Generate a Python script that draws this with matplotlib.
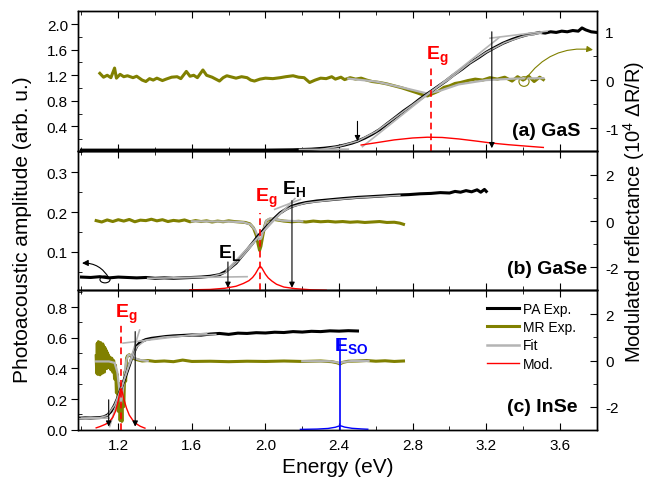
import numpy as np
import matplotlib
matplotlib.use('Agg')
import matplotlib.pyplot as plt
from matplotlib.ticker import MultipleLocator, FormatStrFormatter
from matplotlib.patches import Ellipse
from matplotlib.lines import Line2D

plt.rcParams['font.family'] = ['Liberation Sans', 'DejaVu Sans']
plt.rcParams['mathtext.fontset'] = 'custom'
plt.rcParams['mathtext.rm'] = 'Liberation Sans'
plt.rcParams['mathtext.it'] = 'Liberation Sans:italic'
plt.rcParams['mathtext.bf'] = 'Liberation Sans:bold'
plt.rcParams['axes.unicode_minus'] = False
plt.rcParams['axes.linewidth'] = 1.0

OLIVE = '#808000'
GRAY = '#b4b4b4'

# ---- (a) GaS ----
paA_e = [1.00, 1.20, 1.40, 1.60, 1.80, 2.00, 2.15, 2.25, 2.32, 2.38,
         2.43, 2.47, 2.50, 2.54, 2.58, 2.62, 2.66, 2.71, 2.75, 2.80,
         2.84, 2.89, 2.93, 2.98, 3.02, 3.07, 3.11, 3.16, 3.20, 3.25,
         3.29, 3.34, 3.38, 3.43, 3.46, 3.49, 3.52, 3.55, 3.58, 3.61,
         3.64, 3.67, 3.70, 3.72, 3.74, 3.77, 3.80]
paA_v = [0.03, 0.03, 0.03, 0.03, 0.03, 0.03, 0.035, 0.045, 0.06, 0.08,
         0.11, 0.14, 0.17, 0.22, 0.28, 0.35, 0.44, 0.55, 0.64, 0.74,
         0.83, 0.93, 1.01, 1.11, 1.20, 1.30, 1.39, 1.48, 1.56, 1.64,
         1.70, 1.76, 1.80, 1.84, 1.85, 1.87, 1.86, 1.88, 1.87, 1.89,
         1.88, 1.90, 1.89, 1.94, 1.91, 1.88, 1.87]

mrA_e = [1.10, 1.12, 1.14, 1.16, 1.18, 1.19, 1.21, 1.23, 1.25, 1.28,
         1.30, 1.33, 1.35, 1.37, 1.39, 1.41, 1.44, 1.46, 1.49, 1.52,
         1.54, 1.57, 1.59, 1.61, 1.63, 1.66, 1.68, 1.71, 1.73, 1.75,
         1.77, 1.79, 1.82, 1.84, 1.87, 1.90, 1.92, 1.94, 1.97, 2.00,
         2.04, 2.08, 2.11, 2.15, 2.18, 2.21, 2.24, 2.27, 2.30, 2.33,
         2.36, 2.38, 2.41, 2.43, 2.46, 2.49, 2.52, 2.55, 2.58, 2.62,
         2.66, 2.70, 2.74, 2.78, 2.82, 2.85, 2.88, 2.91, 2.94, 2.97,
         3.00, 3.03, 3.06, 3.10, 3.14, 3.18, 3.22, 3.26, 3.30, 3.34,
         3.37, 3.40, 3.43, 3.46, 3.49, 3.51]
mrA_v = [0.14, 0.06, 0.10, 0.05, 0.25, 0.04, 0.12, 0.07, 0.09, 0.05,
         0.08, 0.00, -0.03, 0.03, 0.00, 0.04, -0.01, 0.02, 0.06, 0.07,
         0.03, 0.18, 0.08, 0.10, 0.05, 0.21, 0.10, 0.06, 0.02, -0.02,
         0.05, 0.09, 0.06, 0.04, 0.07, 0.05, 0.00, -0.02, 0.02, 0.04,
         0.03, 0.05, 0.07, 0.09, 0.06, 0.05, -0.05, 0.00, 0.04, 0.03,
         0.07, 0.02, 0.06, 0.01, 0.05, 0.02, 0.04, 0.00, -0.03, -0.05,
         -0.08, -0.12, -0.16, -0.21, -0.26, -0.30, -0.33, -0.28, -0.23, -0.15,
         -0.12, -0.07, -0.05, -0.01, 0.02, 0.00, 0.05, 0.02, 0.06, -0.02,
         0.07, 0.00, 0.08, -0.03, 0.06, 0.01]

fitA_e = [2.30, 2.40, 2.50, 2.60, 2.70, 2.80, 2.90, 3.00, 3.10, 3.20, 3.30, 3.40, 3.50]
fitA_v = [0.04, 0.09, 0.17, 0.32, 0.53, 0.74, 0.95, 1.14, 1.37, 1.56, 1.71, 1.81, 1.86]
fitmrA_e = [2.45, 2.60, 2.75, 2.88, 2.95, 3.05, 3.20, 3.35, 3.51]
fitmrA_v = [0.03, -0.03, -0.16, -0.28, -0.22, -0.09, 0.00, 0.03, 0.04]
modA_e = [2.52, 2.60, 2.70, 2.80, 2.88, 2.96, 3.05, 3.15, 3.23, 3.32, 3.42, 3.51]
modA_v = [0.11, 0.145, 0.19, 0.22, 0.232, 0.228, 0.205, 0.17, 0.14, 0.115, 0.092, 0.072]
tangA = [[(2.185, 0.04), (2.45, 0.045)], [(2.527, 0.085), (3.27, 1.79)], [(3.22, 1.78), (3.53, 1.89)]]
arrA = [(2.50, 0.48, 0.17), (3.23, 1.88, 0.06)]
egA, egA_span = 2.90, (0.02, 1.35)

# ---- (b) GaSe ----
paB_e = [1.00, 1.05, 1.10, 1.15, 1.20, 1.25, 1.30, 1.35, 1.40, 1.45,
         1.50, 1.55, 1.60, 1.65, 1.70, 1.75, 1.78, 1.80, 1.84, 1.87,
         1.90, 1.93, 1.96, 1.99, 2.02, 2.05, 2.08, 2.11, 2.14, 2.18,
         2.22, 2.28, 2.35, 2.42, 2.50, 2.58, 2.65, 2.72, 2.78, 2.84,
         2.90, 2.95, 3.00, 3.03, 3.06, 3.09, 3.12, 3.15, 3.17, 3.19,
         3.20]
paB_v = [0.037, 0.036, 0.038, 0.035, 0.037, 0.036, 0.035, 0.036, 0.034, 0.035,
         0.034, 0.035, 0.036, 0.037, 0.039, 0.043, 0.050, 0.057, 0.072, 0.089,
         0.105, 0.122, 0.140, 0.155, 0.170, 0.185, 0.198, 0.207, 0.214, 0.220,
         0.224, 0.228, 0.231, 0.234, 0.237, 0.239, 0.241, 0.243, 0.244, 0.246,
         0.247, 0.249, 0.248, 0.252, 0.250, 0.254, 0.251, 0.256, 0.250, 0.257,
         0.252]

mrB_e = [1.08, 1.11, 1.14, 1.17, 1.20, 1.23, 1.26, 1.29, 1.32, 1.35,
         1.38, 1.41, 1.44, 1.47, 1.50, 1.53, 1.56, 1.59, 1.62, 1.65,
         1.68, 1.71, 1.74, 1.77, 1.80, 1.83, 1.86, 1.89, 1.915, 1.935,
         1.950, 1.960, 1.968, 1.975, 1.985, 1.995, 2.005, 2.02, 2.04, 2.07,
         2.10, 2.14, 2.18, 2.22, 2.26, 2.30, 2.34, 2.38, 2.42, 2.46,
         2.50, 2.54, 2.58, 2.62, 2.66, 2.70, 2.73, 2.75]
mrB_v = [0.02, -0.04, 0.05, -0.02, 0.06, 0.00, 0.07, -0.03, 0.04, 0.02,
         0.08, 0.01, 0.06, -0.02, 0.03, 0.00, 0.05, -0.03, 0.02, -0.02,
         0.01, -0.04, 0.00, -0.03, 0.01, -0.02, -0.04, -0.06, -0.12, -0.30,
         -0.62, -1.00, -1.27, -1.10, -0.65, -0.25, 0.00, 0.07, 0.08, 0.04,
         0.00, -0.03, -0.01, -0.04, 0.00, -0.03, -0.01, -0.04, -0.02, -0.05,
         -0.03, -0.06, -0.04, -0.02, -0.06, -0.05, -0.09, -0.14]

fitB_e = [1.50, 1.70, 1.78, 1.85, 1.92, 1.97, 2.02, 2.08, 2.14, 2.22, 2.35, 2.50, 2.73]
fitB_v = [0.035, 0.038, 0.047, 0.077, 0.113, 0.142, 0.170, 0.197, 0.213, 0.223, 0.230, 0.236, 0.242]
fitmrB_e = [1.60, 1.80, 1.88, 1.92, 1.945, 1.96, 1.968, 1.978, 1.99, 2.005, 2.025, 2.05, 2.09, 2.20]
fitmrB_v = [-0.01, -0.02, -0.05, -0.15, -0.40, -0.70, -0.84, -0.72, -0.35, 0.02, 0.12, 0.08, 0.02, -0.01]
modB_e = [1.59, 1.70, 1.78, 1.84, 1.88, 1.91, 1.93, 1.945, 1.955, 1.965, 1.972,
          1.98, 1.99, 2.00, 2.015, 2.035, 2.06, 2.10, 2.16, 2.25, 2.33]
modB_v = [0.005, 0.006, 0.009, 0.014, 0.021, 0.028, 0.036, 0.045, 0.053, 0.061, 0.064,
          0.060, 0.052, 0.044, 0.035, 0.027, 0.019, 0.012, 0.008, 0.005, 0.004]
tangB = [[(1.36, 0.034), (1.90, 0.038)], [(1.788, 0.054), (2.16, 0.234)], [(2.05, 0.207), (2.19, 0.232)]]
arrB = [(1.796, 0.075, 0.01), (2.144, 0.229, 0.01)]
egB, egB_span = 1.972, (0.004, 0.197)

# ---- (c) InSe ----
paC_e = [0.99, 1.02, 1.05, 1.08, 1.10, 1.12, 1.14, 1.16, 1.18, 1.20,
         1.22, 1.24, 1.26, 1.28, 1.30, 1.32, 1.35, 1.38, 1.42, 1.46,
         1.50, 1.55, 1.60, 1.65, 1.70, 1.75, 1.80, 1.85, 1.90, 1.95,
         2.00, 2.05, 2.10, 2.15, 2.20, 2.25, 2.30, 2.35, 2.40, 2.45,
         2.50]
paC_v = [0.075, 0.077, 0.076, 0.078, 0.079, 0.083, 0.094, 0.118, 0.160, 0.215,
         0.285, 0.350, 0.420, 0.490, 0.545, 0.572, 0.588, 0.596, 0.602, 0.608,
         0.612, 0.615, 0.618, 0.617, 0.624, 0.628, 0.622, 0.630, 0.628, 0.633,
         0.631, 0.636, 0.634, 0.640, 0.637, 0.642, 0.640, 0.645, 0.643, 0.646,
         0.644]

mrC_e = [1.080, 1.083, 1.086, 1.089, 1.092, 1.095, 1.098, 1.101, 1.104, 1.107,
         1.110, 1.113, 1.116, 1.119, 1.122, 1.125, 1.128, 1.131, 1.134, 1.137,
         1.140, 1.143, 1.146, 1.150, 1.155, 1.160, 1.165, 1.170, 1.175, 1.180,
         1.185, 1.190, 1.195, 1.200, 1.205, 1.210, 1.215, 1.220, 1.225, 1.230,
         1.235, 1.240, 1.245, 1.250, 1.260, 1.270, 1.280, 1.300, 1.330, 1.360,
         1.40, 1.45, 1.50, 1.55, 1.60, 1.70, 1.80, 1.90, 2.00, 2.10,
         2.20, 2.30, 2.36, 2.39, 2.405, 2.42, 2.45, 2.50, 2.55, 2.60,
         2.65, 2.70, 2.75]
mrC_v = [0.20, -0.55, 0.75, -0.60, 0.82, -0.50, 0.70, -0.62, 0.78, -0.45,
         0.65, -0.55, 0.72, -0.40, 0.60, -0.50, 0.55, -0.30, 0.45, -0.35,
         0.35, -0.20, 0.25, -0.30, 0.15, -0.40, 0.10, -0.50, 0.00, -0.80,
         -0.20, -1.40, -0.60, -2.20, -1.00, -2.60, -1.50, -2.64, -1.20, -2.00,
         -0.50, -0.90, 0.10, 0.20, 0.25, 0.18, 0.10, 0.04, -0.02, 0.00,
         -0.04, -0.02, -0.05, 0.02, -0.04, -0.03, -0.05, -0.03, -0.04, -0.02,
         -0.04, -0.02, -0.05, -0.10, -0.15, -0.08, -0.03, -0.02, 0.00, -0.03,
         -0.01, -0.04, -0.02]

fitC_e = [1.00, 1.10, 1.14, 1.18, 1.22, 1.26, 1.30, 1.35, 1.45, 1.60, 1.73]
fitC_v = [0.076, 0.079, 0.092, 0.160, 0.285, 0.420, 0.540, 0.585, 0.605, 0.616, 0.622]
fitmrC_e = [1.08, 1.15, 1.18, 1.195, 1.205, 1.215, 1.225, 1.235, 1.245, 1.255, 1.27, 1.29, 1.32, 1.36]
fitmrC_v = [-0.04, -0.04, -0.10, -0.50, -1.20, -1.83, -1.30, -0.50, 0.05, 0.25, 0.22, 0.10, 0.02, -0.02]
fitsoC_e = [2.20, 2.35, 2.39, 2.405, 2.42, 2.47, 2.56]
fitsoC_v = [-0.03, -0.03, -0.08, -0.13, -0.07, -0.02, -0.02]
modC_e = [1.08, 1.10, 1.13, 1.15, 1.17, 1.185, 1.20, 1.21, 1.215,
          1.22, 1.23, 1.245, 1.26, 1.28, 1.30, 1.32, 1.345]
modC_v = [0.012, 0.020, 0.035, 0.050, 0.080, 0.120, 0.190, 0.250, 0.270,
          0.255, 0.200, 0.140, 0.095, 0.060, 0.037, 0.022, 0.010]
soC_e = [2.19, 2.28, 2.34, 2.38, 2.40, 2.406, 2.415, 2.43, 2.47, 2.52, 2.556]
soC_v = [0.002, 0.004, 0.008, 0.016, 0.024, 0.026, 0.023, 0.017, 0.009, 0.005, 0.003]
tangC = [[(0.99, 0.072), (1.15, 0.076)], [(1.153, 0.02), (1.316, 0.65)], [(1.226, 0.565), (1.68, 0.63)]]
arrC = [(1.148, 0.195, 0.02), (1.292, 0.64, 0.02)]
egC, egC_span = 1.215, (0.0, 0.705)
eso, eso_span = 2.406, (0.0, 0.585)

fig = plt.figure(figsize=(6.5, 4.81), dpi=100)
gs = fig.add_gridspec(3, 1, left=0.1205, right=0.918, top=0.9744, bottom=0.1046, hspace=0)
axA = fig.add_subplot(gs[0])
axB = fig.add_subplot(gs[1], sharex=axA)
axC = fig.add_subplot(gs[2], sharex=axA)
rA, rB, rC = axA.twinx(), axB.twinx(), axC.twinx()

for ax, r in [(axA, rA), (axB, rB), (axC, rC)]:
    ax.set_zorder(r.get_zorder() + 1)   # PA side drawn on top of MR
    ax.patch.set_visible(False)

panels = [
    (axA, rA, paA_e, paA_v, mrA_e, mrA_v, fitA_e, fitA_v, fitmrA_e, fitmrA_v, modA_e, modA_v, tangA, arrA),
    (axB, rB, paB_e, paB_v, mrB_e, mrB_v, fitB_e, fitB_v, fitmrB_e, fitmrB_v, modB_e, modB_v, tangB, arrB),
    (axC, rC, paC_e, paC_v, mrC_e, mrC_v, fitC_e, fitC_v, fitmrC_e, fitmrC_v, modC_e, modC_v, tangC, arrC),
]
for ax, r, pe, pv, me, mv, fe, fv, fme, fmv, de, dv, tang, arrs in panels:
    r.plot(me, mv, color=OLIVE, lw=2.2)
    r.plot(fme, fmv, color=GRAY, lw=1.6)
    ax.plot(pe, pv, color='k', lw=2.2)
    ax.plot(fe, fv, color=GRAY, lw=1.1)
    for (x0, y0), (x1, y1) in tang:
        ax.plot([x0, x1], [y0, y1], color=GRAY, lw=1.2)
    ax.plot(de, dv, color='red', lw=1.0)
    for e, y0, y1 in arrs:
        ax.annotate('', xy=(e, y1), xytext=(e, y0),
                    arrowprops=dict(arrowstyle='-|>', color='k', lw=0.8,
                                    mutation_scale=8, shrinkA=0, shrinkB=0))

rC.plot(fitsoC_e, fitsoC_v, color=GRAY, lw=1.6)
axC.plot(soC_e, soC_v, color='blue', lw=1.0)
axC.plot([eso, eso], eso_span, color='blue', lw=1.2)

for ax, eg, span in [(axA, egA, egA_span), (axB, egB, egB_span), (axC, egC, egC_span)]:
    ax.plot([eg, eg], span, color='red', lw=1.2, ls=(0, (4, 2.5)))

# labels of the transitions
axA.text(2.874, 1.45, r'$\mathbf{E_g}$', color='red', fontsize=14, va='baseline')
axB.text(1.941, 0.229, r'$\mathbf{E_g}$', color='red', fontsize=14, va='baseline')
axB.text(1.741, 0.087, r'$\mathbf{E_L}$', color='k', fontsize=14, va='baseline')
axB.text(2.088, 0.249, r'$\mathbf{E_H}$', color='k', fontsize=14, va='baseline')
axC.text(1.182, 0.736, r'$\mathbf{E_g}$', color='red', fontsize=14, va='baseline')
axC.text(2.374, 0.521, r'$\mathbf{E_{SO}}$', color='blue', fontsize=14, va='baseline')

# curved arrows pointing to the axis of each curve
rA.annotate('', xy=(3.78, 0.63), xytext=(3.41, 0.0),
            arrowprops=dict(arrowstyle='-|>', color=OLIVE, lw=0.8, mutation_scale=9,
                            connectionstyle='arc3,rad=-0.3', shrinkA=0, shrinkB=0))
rA.add_patch(Ellipse((3.405, -0.03), 0.055, 0.2, fill=False, ec=OLIVE, lw=0.8))
axB.annotate('', xy=(1.003, 0.072), xytext=(1.15, 0.034),
             arrowprops=dict(arrowstyle='-|>', color='k', lw=0.8, mutation_scale=9,
                             connectionstyle='arc3,rad=0.3', shrinkA=0, shrinkB=0))
axB.add_patch(Ellipse((1.128, 0.031), 0.055, 0.017, fill=False, ec='k', lw=0.8))

axA.text(0.968, 0.113, '(a) GaS', transform=axA.transAxes, ha='right', va='baseline',
         fontsize=14, fontweight='bold')
axB.text(0.981, 0.122, '(b) GaSe', transform=axB.transAxes, ha='right', va='baseline',
         fontsize=14, fontweight='bold')
axC.text(0.962, 0.133, '(c) InSe', transform=axC.transAxes, ha='right', va='baseline',
         fontsize=14, fontweight='bold')

# axes, ticks
axA.set_xlim(0.983, 3.8)
axA.set_ylim(0.02, 2.2)
axA.set_yticks([0.4, 0.8, 1.2, 1.6, 2.0])
axA.set_yticks([0.2, 0.6, 1.0, 1.4, 1.8], minor=True)
axB.set_ylim(0.004, 0.354)
axB.set_yticks([0.1, 0.2, 0.3])
axB.set_yticks([0.05, 0.15, 0.25, 0.35], minor=True)
axC.set_ylim(0, 0.91)
axC.set_yticks([0.0, 0.2, 0.4, 0.6, 0.8])
axC.set_yticks([0.1, 0.3, 0.5, 0.7, 0.9], minor=True)
rA.set_ylim(-1.47, 1.43)
rA.set_yticks([-1, 0, 1])
rA.set_yticks([-0.5, 0.5], minor=True)
for r in (rB, rC):
    r.set_ylim(-3.0, 3.05)
    r.set_yticks([-2, 0, 2])
    r.set_yticks([-1, 1], minor=True)

for ax in (axA, axB, axC):
    ax.xaxis.set_major_locator(MultipleLocator(0.4))
    ax.xaxis.set_minor_locator(MultipleLocator(0.2))
    ax.xaxis.set_major_formatter(FormatStrFormatter('%.1f'))
    ax.yaxis.set_major_formatter(FormatStrFormatter('%.1f'))
    ax.tick_params(axis='x', which='both', direction='in', top=True, bottom=True, labelsize=11, pad=6)
    ax.tick_params(axis='x', which='major', length=5)
    ax.tick_params(axis='x', which='minor', length=3)
    ax.tick_params(axis='y', which='major', direction='out', length=5, labelsize=11, pad=2.5)
    ax.tick_params(axis='y', which='minor', direction='in', length=3)
for r in (rA, rB, rC):
    r.tick_params(axis='y', which='major', direction='in', length=5, labelsize=11, pad=6)
    r.tick_params(axis='y', which='minor', direction='in', length=3)
axA.tick_params(labelbottom=False)
axB.tick_params(labelbottom=False)

handles = [Line2D([], [], color='k', lw=2.2), Line2D([], [], color=OLIVE, lw=2.2),
           Line2D([], [], color=GRAY, lw=1.8), Line2D([], [], color='red', lw=1.0)]
axC.legend(handles, ['PA Exp.', 'MR Exp.', 'Fit', 'Mod.'], loc='upper left',
           bbox_to_anchor=(0.788, 0.915), frameon=False, fontsize=10, handlelength=2.3,
           handletextpad=0.3, labelspacing=0.3, borderpad=0, borderaxespad=0)

fig.text(0.0346, 1 - 230 / 481, 'Photoacoustic amplitude (arb. u.)', rotation=90,
         ha='center', va='center', fontsize=15)
fig.text(0.975, 1 - 212 / 481, 'Modulated reflectance (10$^4$ ΔR/R)', rotation=90,
         ha='center', va='center', fontsize=14.5)
fig.text(0.519, 1 - 468 / 481, 'Energy (eV)', ha='center', va='center', fontsize=15)

plt.savefig('out.png', dpi=100)
